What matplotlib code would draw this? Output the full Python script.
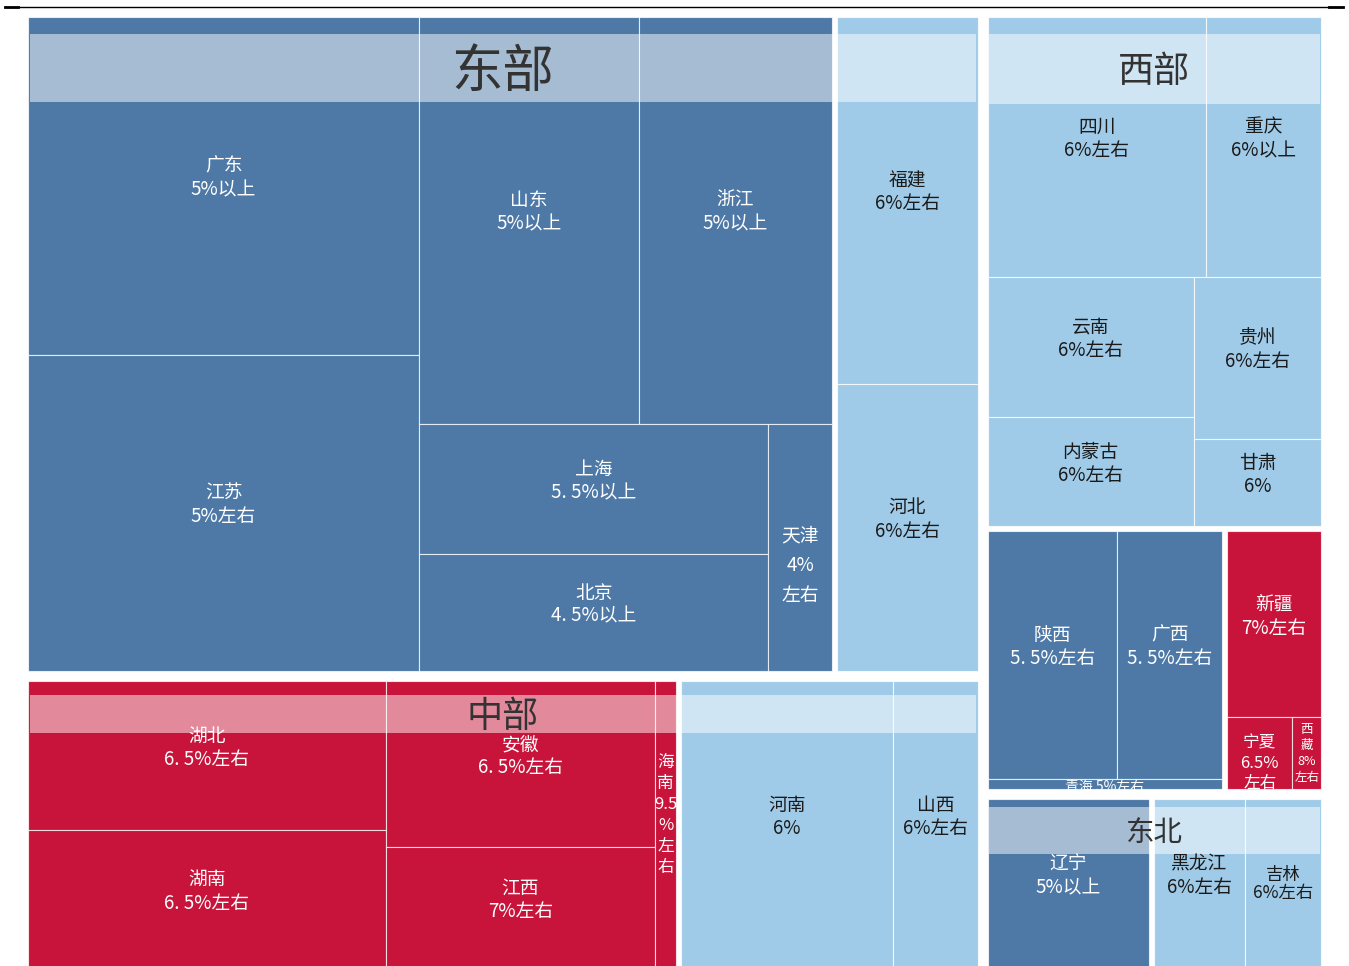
import matplotlib
matplotlib.use("Agg")
import matplotlib.pyplot as plt
from matplotlib.patches import Rectangle
from matplotlib.lines import Line2D

plt.rcParams['font.family'] = ['Noto Sans CJK SC', 'DejaVu Sans']

# 2022年各省GDP(亿元) 与 2023年经济增长目标
provinces = ['广东', '江苏', '山东', '浙江', '上海', '北京', '天津', '福建', '河北',
             '湖北', '湖南', '安徽', '江西', '海南', '河南', '山西',
             '四川', '重庆', '云南', '内蒙古', '贵州', '甘肃',
             '陕西', '广西', '青海', '新疆', '宁夏', '西藏',
             '辽宁', '黑龙江', '吉林']
gdp = [129118, 122876, 87435, 77715, 44653, 41611, 16311, 53110, 42370,
       53735, 48670, 45045, 32075, 6818, 61345, 25643,
       56750, 29129, 28954, 23159, 20165, 11202,
       32773, 26301, 3610, 17741, 5070, 2133,
       28975, 15901, 13070]
targets = ['5%以上', '5%左右', '5%以上', '5%以上', '5. 5%以上', '4. 5%以上', '4%左右', '6%左右', '6%左右',
           '6. 5%左右', '6. 5%左右', '6. 5%左右', '7%左右', '9.5%左右', '6%', '6%左右',
           '6%左右', '6%以上', '6%左右', '6%左右', '6%左右', '6%',
           '5. 5%左右', '5. 5%左右', '5%左右', '7%左右', '6.5%左右', '8%左右',
           '5%以上', '6%左右', '6%左右']
# 目标档位: 0 = 5.5%及以下, 1 = 6%, 2 = 6.5%及以上
tiers = [0, 0, 0, 0, 0, 0, 0, 1, 1,
         2, 2, 2, 2, 2, 1, 1,
         1, 1, 1, 1, 1, 1,
         0, 0, 0, 2, 2, 2,
         0, 1, 1]
regions = ['东部', '中部', '西部', '东北']

value = dict(zip(provinces, gdp))
target = dict(zip(provinces, targets))
tier = dict(zip(provinces, tiers))

tier_colors = ['#4E79A7', '#A0CBE8', '#C8143A']
text_colors = ['white', '#1a1a1a', 'white']

# 矩形树图结构: (方向, 间隔, 子节点, 名称)
east = ('h', 5, [
    ('h', 0, [('v', 0, ['广东', '江苏']),
              ('v', 0, [('h', 0, ['山东', '浙江']),
                        ('h', 0, [('v', 0, ['上海', '北京']), '天津'])])]),
    ('v', 0, ['福建', '河北'])], '东部')
central = ('h', 5, [
    ('h', 0, [('v', 0, ['湖北', '湖南']), ('v', 0, ['安徽', '江西']), '海南']),
    ('h', 0, ['河南', '山西'])], '中部')
west = ('v', 5, [
    ('v', 0, [('h', 0, ['四川', '重庆']),
              ('h', 0, [('v', 0, ['云南', '内蒙古']), ('v', 0, ['贵州', '甘肃'])])]),
    ('h', 5, [('v', 0, [('h', 0, ['陕西', '广西']), '青海']),
              ('v', 0, ['新疆', ('h', 0, ['宁夏', '西藏'])])])], '西部')
northeast = ('h', 5, ['辽宁', ('h', 0, ['黑龙江', '吉林'])], '东北')
tree = ('h', 10, [('v', 10, [east, central]), ('v', 10, [west, northeast])])

# 区域标题条: (距顶部, 高度, 字号, 文字下移)
header_style = {'东部': (17, 68, 37, 4), '中部': (14, 38, 26, 3),
                '西部': (17, 70, 26, 3), '东北': (8, 47, 20.5, 4)}

# 特殊标签 (窄格子里换行)
label_text = {'天津': '天津\n4%\n左右', '海南': '海\n南\n9.5\n%\n左\n右',
              '青海': '青海 5%左右', '宁夏': '宁夏\n6.5%\n左右', '西藏': '西\n藏\n8%\n左右'}
label_style = {'天津': dict(size=13.5, dy=18, ls=1.55), '海南': dict(size=12, dy=-10, ls=1.32),
               '青海': dict(size=10, dy=3, ls=1.2), '宁夏': dict(size=12, dy=10, ls=1.25),
               '西藏': dict(size=9, dy=0, ls=1.3), '吉林': dict(size=12.5, dy=0, ls=1.0)}


def total(node):
    if isinstance(node, str):
        return value[node]
    return sum(total(c) for c in node[2])


def layout(node, x0, y0, x1, y1, inset, out, named):
    l, t, r, b = inset
    if isinstance(node, str):
        out[node] = (x0 + l, y0 + t, x1 - r, y1 - b)
        return
    direction, gap, children = node[:3]
    if len(node) > 3:
        named[node[3]] = (x0 + l, y0 + t, x1 - r, y1 - b)
    sums = [total(c) for c in children]
    s = sum(sums)
    n = len(children)
    pos = x0 if direction == 'h' else y0
    length = (x1 - x0) if direction == 'h' else (y1 - y0)
    for i, (c, v) in enumerate(zip(children, sums)):
        a = pos
        e = pos + length * v / s
        pos = e
        first = gap / 2 if i > 0 else None
        last = gap / 2 if i < n - 1 else None
        if direction == 'h':
            ci = (l if first is None else first, t, r if last is None else last, b)
            layout(c, a, y0, e, y1, ci, out, named)
        else:
            ci = (l, t if first is None else first, r, b if last is None else last)
            layout(c, x0, a, x1, e, ci, out, named)


rects = {}
region_rects = {}
layout(tree, 28, 17, 1321, 969, (0, 0, 0, 0), rects, region_rects)

fig = plt.figure(figsize=(13.49, 9.66), dpi=100)
ax = fig.add_axes([0, 0, 1, 1])
ax.set_xlim(0, 1349)
ax.set_ylim(966, 0)
ax.axis('off')

for p in provinces:
    x0, y0, x1, y1 = rects[p]
    k = tier[p]
    rect = Rectangle((x0, y0), x1 - x0, y1 - y0, facecolor=tier_colors[k],
                     edgecolor=(1, 1, 1, 0.75), linewidth=0.8, zorder=1)
    ax.add_patch(rect)

# 区域标题条
for reg in regions:
    x0, y0, x1, y1 = region_rects[reg]
    off, h, fs, dy = header_style[reg]
    ax.add_patch(Rectangle((x0 + 1.5, y0 + off), x1 - x0 - 3, h,
                           facecolor='white', alpha=0.5, edgecolor='none', zorder=2))
    ax.text((x0 + x1) / 2, y0 + off + h / 2 + dy, reg, fontsize=fs, color='#333333',
            ha='center', va='center', zorder=4)

# 省份标签
for p in provinces:
    x0, y0, x1, y1 = rects[p]
    k = tier[p]
    st = label_style.get(p, dict(size=13.5, dy=-8, ls=1.14))
    txt = label_text.get(p, p + '\n' + target[p])
    clip = Rectangle((x0, y0), x1 - x0, y1 - y0, transform=ax.transData)
    t = ax.text((x0 + x1) / 2, (y0 + y1) / 2 + st['dy'], txt, fontsize=st['size'],
                color=text_colors[k], ha='center', va='center', multialignment='center',
                linespacing=st['ls'], zorder=3)
    t.set_clip_path(clip)

# 顶部细线
W, H = 1349, 966
fig.add_artist(Line2D([5 / W, 1343 / W], [1 - 7 / H, 1 - 7 / H], color='black', linewidth=1.0))
fig.add_artist(Line2D([5 / W, 18 / W], [1 - 7 / H, 1 - 7 / H], color='black', linewidth=2.0))
fig.add_artist(Line2D([1329 / W, 1343 / W], [1 - 7 / H, 1 - 7 / H], color='black', linewidth=2.0))

fig.savefig('out.png', dpi=100)
